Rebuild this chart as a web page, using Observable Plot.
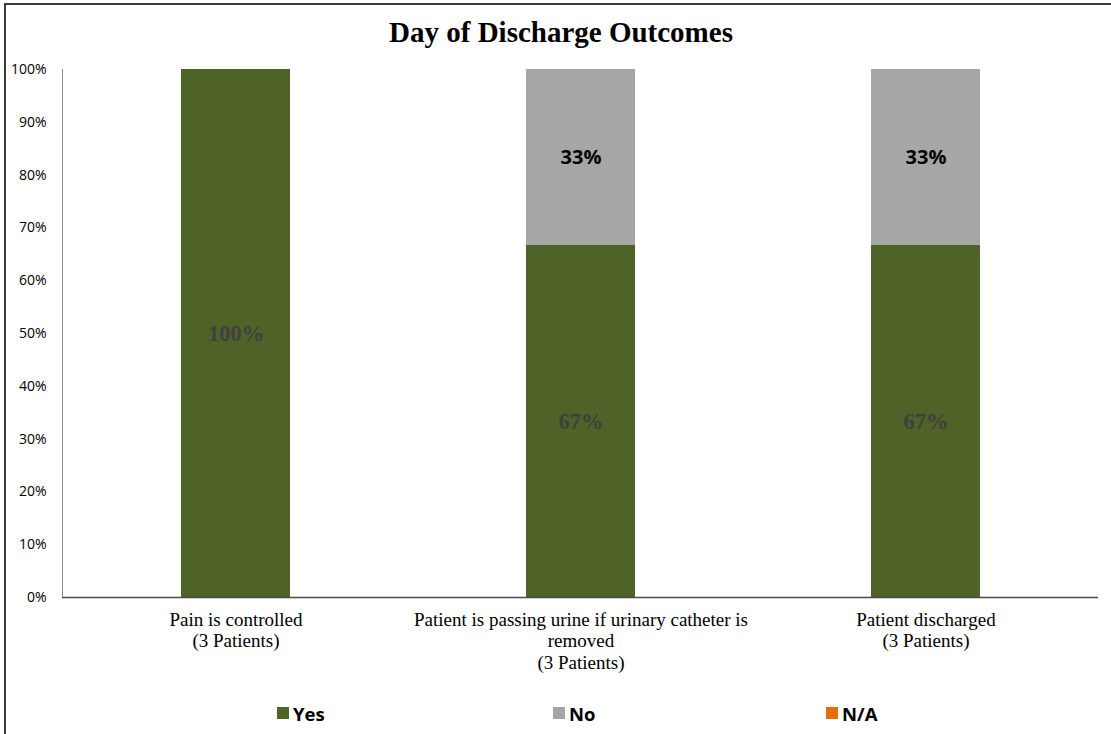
<!DOCTYPE html>
<html>
<head>
<meta charset="utf-8">
<script src="https://cdn.jsdelivr.net/npm/d3@7"></script>
<script src="https://cdn.jsdelivr.net/npm/@observablehq/plot@0.6"></script>
<style>
  html, body { margin: 0; padding: 0; background: #fff; }
  #wrap { position: relative; width: 1111px; height: 734px; overflow: hidden; background: #fff; }
  #frame { position: absolute; left: 4px; top: 3px; width: 1200px; height: 800px;
           border-left: 2px solid #3a3a3a; border-top: 2px solid #3a3a3a; box-sizing: border-box; }
  #title { position: absolute; left: 0; top: 16px; width: 1122px; text-align: center;
           font-family: "Liberation Serif", "Times New Roman", serif; font-weight: bold; font-size: 29px; color: #000; }
  #chart { position: absolute; left: 0; top: 50px; }
  #legend { position: absolute; left: 0; top: 699px; width: 1111px; height: 30px;
            font-family: "Open Sans", "Liberation Sans", sans-serif; font-weight: bold; font-size: 18.5px; color: #000; }
  .item { position: absolute; top: 0; display: flex; align-items: center; height: 28px; }
  .sw { width: 12px; height: 12px; margin-right: 4px; }
</style>
</head>
<body>
<div id="wrap">
  <div id="frame"></div>
  <div id="title">Day of Discharge Outcomes</div>
  <div id="chart"></div>
  <div id="legend"></div>
</div>
<script>
const categories = [
  "Pain is controlled",
  "Patient is passing urine if urinary catheter is removed",
  "Patient discharged"
];
const tickLabels = [
  "Pain is controlled\n(3 Patients)",
  "Patient is passing urine if urinary catheter is\nremoved\n(3 Patients)",
  "Patient discharged\n(3 Patients)"
];
const series = ["Yes", "No", "N/A"];
const colors = ["#4F6228", "#A6A6A6", "#E46C0A"];
const yesValues = [100, 66.67, 66.67];
const noValues = [0, 33.33, 33.33];
const naValues = [0, 0, 0];
const yTicks = [0, 10, 20, 30, 40, 50, 60, 70, 80, 90, 100];

const valuesBySeries = {"Yes": yesValues, "No": noValues, "N/A": naValues};
const data = [];
series.forEach(s => categories.forEach((c, i) => data.push({cat: c, series: s, value: valuesBySeries[s][i]})));
const labelOf = Object.fromEntries(categories.map((c, i) => [c, tickLabels[i]]));

const stackOpts = {x: "cat", y: "value", z: "series", order: series};
const labelFor = s => d => (d.series === s && d.value > 0) ? Math.round(d.value) + "%" : null;

const chart = Plot.plot({
  width: 1111,
  height: 640,
  marginLeft: 62,
  marginRight: 13,
  marginTop: 19,
  marginBottom: 93,
  style: {background: "transparent", overflow: "visible"},
  x: {domain: categories, paddingInner: 0.685, paddingOuter: 0.3425, label: null},
  y: {domain: [0, 100], label: null},
  color: {domain: series, range: colors},
  marks: [
    Plot.barY(data, Plot.stackY({...stackOpts, fill: "series"})),
    Plot.frame({anchor: "left", stroke: "#8c8c8c", strokeWidth: 1}),
    Plot.ruleY([0], {stroke: "#4a4a4a", strokeWidth: 1.5}),
    Plot.axisY({ticks: yTicks, tickSize: 0, tickPadding: 16, tickFormat: d => d + "%",
      fontFamily: "Open Sans, Liberation Sans, sans-serif", fontSize: 14, fill: "#000"}),
    Plot.axisX({tickSize: 0, tickPadding: 13, tickFormat: d => labelOf[d], lineHeight: 1.13,
      fontFamily: "Liberation Serif, Times New Roman, serif", fontSize: 19, fill: "#000"}),
    Plot.text(data, Plot.stackY({...stackOpts, text: labelFor("Yes"), fill: "#404040",
      fontFamily: "Liberation Serif, Times New Roman, serif", fontWeight: "bold", fontSize: 22.5})),
    Plot.text(data, Plot.stackY({...stackOpts, text: labelFor("No"), fill: "#000",
      fontFamily: "Open Sans, Liberation Sans, sans-serif", fontWeight: "bold", fontSize: 20}))
  ]
});
document.getElementById("chart").appendChild(chart);

const legendPos = [277, 553, 826];
const legend = document.getElementById("legend");
series.forEach((s, i) => {
  const item = document.createElement("div");
  item.className = "item";
  item.style.left = legendPos[i] + "px";
  const sw = document.createElement("div");
  sw.className = "sw";
  sw.style.background = colors[i];
  const t = document.createElement("span");
  t.textContent = s;
  item.appendChild(sw);
  item.appendChild(t);
  legend.appendChild(item);
});
</script>
</body>
</html>
